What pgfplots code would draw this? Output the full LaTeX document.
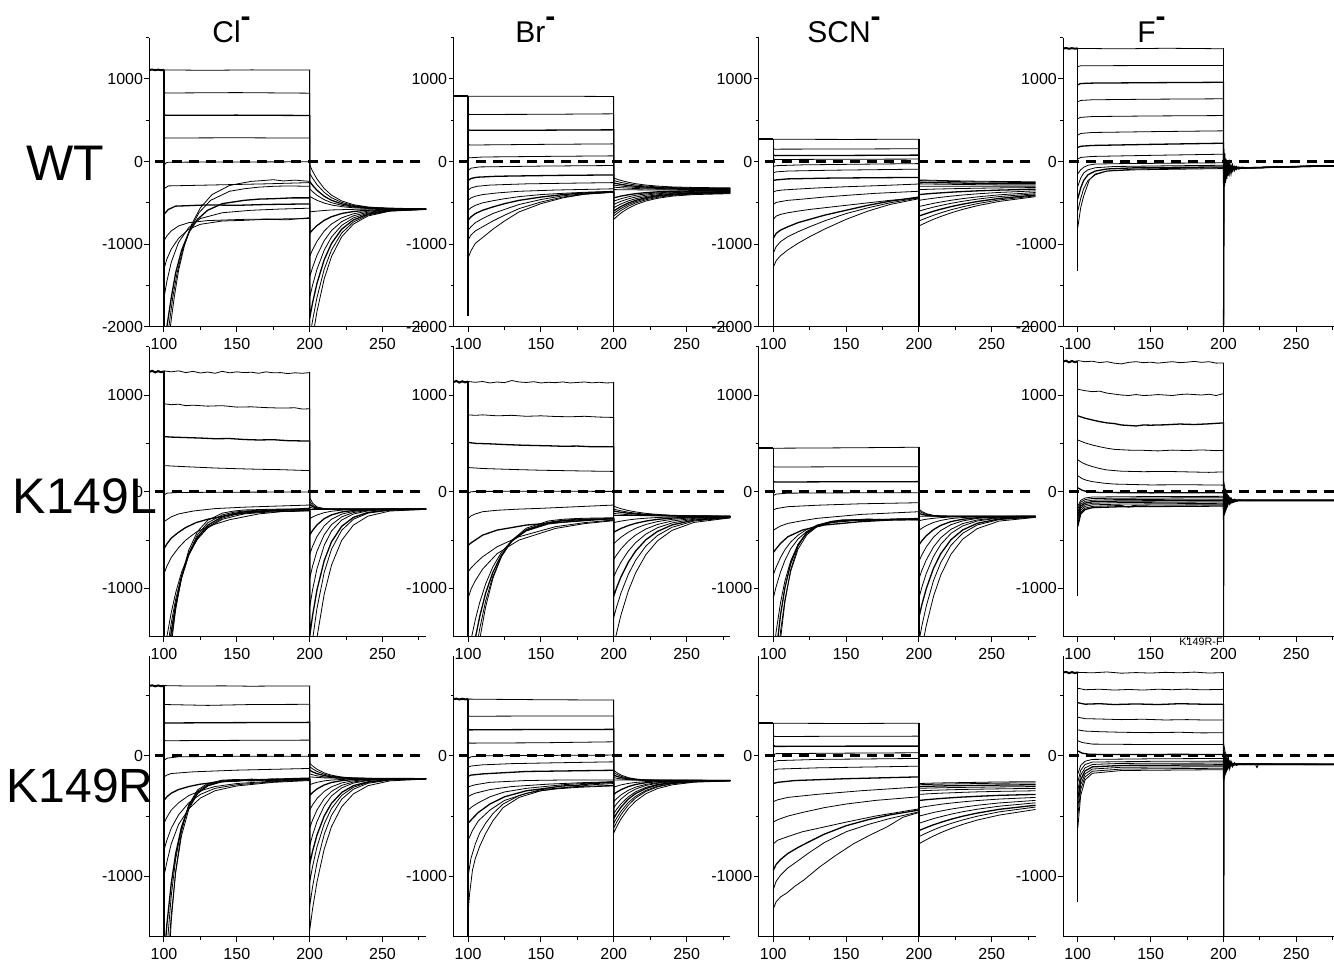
\documentclass[border=0pt]{standalone}
\usepackage{pgfplots}
\pgfplotsset{compat=1.18}
\usepackage{fontspec}
\setmainfont{Liberation Sans}
\pgfplotsset{
  panel/.style={scale only axis, width=138.4pt, xmin=90, xmax=280,
    axis lines*=left, tick align=outside,
    xtick={100,150,200,250}, xticklabels={100,150,200,250},
    minor xtick={125,175,225,275},
    major tick length=2.5pt, minor tick length=1.5pt,
    tick style={black, line width=0.5pt},
    axis line style={black, line width=0.5pt},
    tick label style={font=\fontsize{8}{9}\selectfont},
    yticklabel style={inner xsep=0.5pt},
    cycle list={{black,line width=0.65pt,line join=round,mark=none}},
    anchor=south west},
  rowA/.style={height=144.5pt, ymin=-2000, ymax=1500, ytick={-2000,-1000,0,1000}, yticklabels={-2000,-1000,0,1000}, minor ytick={-1500,-500,500,1500}},
  rowB/.style={height=145pt, ymin=-1500, ymax=1500, ytick={-1000,0,1000}, yticklabels={-1000,0,1000}, minor ytick={-500,500,1500}},
  rowC/.style={height=140.5pt, ymin=-1500, ymax=830, ytick={-1000,0}, yticklabels={-1000,0}, minor ytick={-500,500}},
  pre/.style={black, line width=1.0pt, mark=none},
  vert/.style={black, line width=0.65pt, mark=none},
  zero/.style={black, line width=1.5pt, dash pattern=on 5pt off 3.5pt, mark=none},
}
\begin{document}
\begin{tikzpicture}
% ================= ROW 1 : WT =================
\begin{axis}[panel,rowA,at={(74.7pt,-163.35pt)}]
\addplot[pre] coordinates {(90,1110)(92,1114)(94,1106)(96,1113)(98,1107)(100,1110)};
\addplot[vert] coordinates {(100,1110)(100,-3000)};
\addplot[vert] coordinates {(200,1110)(200,-3000)};
\addplot coordinates {(100,1110)(130,1105)(160,1110)(200,1108)(200,-40)(202,-117)(205,-211)(210,-327)(215,-407)(222,-477)(230,-522)(240,-550)(255,-568)(280,-574)};
\addplot coordinates {(100,845)(101,830)(150,835)(200,828)(200,-140)(202,-202)(205,-279)(210,-374)(215,-438)(222,-495)(230,-532)(240,-555)(255,-569)(280,-576)};
\addplot coordinates {(100,575)(101,560)(150,562)(200,558)(200,-240)(202,-288)(205,-347)(210,-420)(215,-469)(222,-513)(230,-542)(240,-560)(255,-566)(280,-578)};
\addplot coordinates {(100,300)(101,285)(150,288)(200,284)(200,-330)(202,-365)(205,-408)(210,-462)(215,-498)(222,-530)(230,-551)(240,-564)(255,-580)(280,-572)};
\addplot coordinates {(100,-60)(101,-20)(103,-8)(150,-5)(200,-3)(200,-420)(202,-442)(205,-469)(210,-503)(215,-526)(222,-546)(230,-560)(240,-568)(255,-573)(280,-575)};
\addplot coordinates {(100,-330)(103,-295)(130,-285)(170,-270)(200,-255)(200,-610)(205,-600)(215,-586)(230,-579)(255,-570)(280,-578)};
\addplot coordinates {(100,-640)(103,-580)(108,-540)(130,-525)(150,-530)(170,-520)(200,-513)(200,-870)(202,-828)(205,-776)(210,-712)(215,-668)(222,-629)(230,-605)(240,-589)(255,-579)(280,-576)};
\addplot coordinates {(100,-960)(102,-900)(105,-840)(110,-780)(117,-740)(130,-715)(155,-700)(180,-695)(200,-690)(200,-1150)(202,-1068)(205,-967)(210,-841)(215,-756)(222,-681)(230,-633)(240,-601)(255,-583)(280,-576)};
\addplot coordinates {(100,-1300)(102,-1180)(105,-1060)(110,-930)(117,-820)(125,-760)(140,-720)(155,-712)(170,-700)(185,-705)(200,-680)(200,-1400)(202,-1282)(205,-1137)(210,-957)(215,-835)(222,-727)(230,-658)(240,-613)(255,-587)(280,-577)};
\addplot coordinates {(100,-1650)(102,-1450)(105,-1220)(110,-980)(117,-800)(125,-690)(140,-620)(160,-590)(180,-575)(200,-565)(200,-1650)(202,-1496)(205,-1307)(210,-1073)(215,-914)(222,-773)(230,-683)(240,-624)(255,-590)(280,-577)};
\addplot coordinates {(100,-2300)(102,-2000)(105,-1650)(108,-1350)(112,-1080)(117,-860)(123,-700)(130,-590)(140,-510)(155,-470)(165,-455)(175,-450)(188,-440)(200,-440)(200,-1900)(202,-1711)(205,-1477)(210,-1188)(215,-992)(222,-819)(230,-708)(240,-636)(255,-594)(280,-578)};
\addplot coordinates {(100,-2600)(103,-2050)(106,-1650)(109,-1350)(113,-1060)(118,-820)(124,-620)(132,-470)(145,-360)(155,-330)(165,-310)(175,-300)(185,-295)(200,-300)(200,-2150)(202,-1925)(205,-1648)(210,-1304)(215,-1071)(222,-865)(230,-733)(240,-647)(255,-597)(280,-578)};
\addplot coordinates {(100,-3000)(104,-2050)(107,-1650)(110,-1320)(114,-1020)(119,-760)(125,-560)(133,-400)(145,-290)(152,-265)(160,-240)(168,-230)(175,-220)(182,-235)(190,-225)(200,-240)(200,-2400)(202,-2139)(205,-1818)(210,-1420)(215,-1150)(222,-911)(230,-758)(240,-659)(255,-601)(280,-579)};
\addplot[zero] coordinates {(94,0)(280,0)};
\end{axis}

\begin{axis}[panel,rowA,at={(226.75pt,-163.35pt)}]
\addplot[pre] coordinates {(90,790)(100,790)};
\addplot[vert] coordinates {(100,790)(100,-1870)};
\addplot[vert] coordinates {(200,790)(200,-3000)};
\addplot coordinates {(100,790)(150,792)(200,788)(200,-200)(202,-213)(205,-229)(210,-251)(215,-268)(222,-285)(230,-297)(240,-307)(255,-314)(280,-319)};
\addplot coordinates {(100,580)(101,570)(150,572)(200,578)(200,-230)(202,-240)(205,-253)(210,-270)(215,-284)(222,-297)(230,-307)(240,-315)(255,-321)(280,-324)};
\addplot coordinates {(100,390)(101,378)(150,380)(200,384)(200,-260)(202,-267)(205,-277)(210,-290)(215,-300)(222,-309)(230,-317)(240,-322)(255,-327)(280,-329)};
\addplot coordinates {(100,215)(101,200)(150,208)(200,214)(200,-285)(205,-297)(210,-306)(215,-313)(222,-320)(230,-326)(240,-330)(255,-333)(280,-334)};
\addplot coordinates {(100,60)(101,45)(110,55)(150,62)(200,69)(200,-310)(205,-317)(215,-327)(230,-334)(255,-339)(280,-340)};
\addplot coordinates {(100,-110)(102,-80)(108,-65)(150,-55)(200,-48)(200,-340)(230,-345)(280,-345)};
\addplot coordinates {(100,-230)(102,-205)(106,-190)(120,-178)(160,-168)(200,-162)(200,-440)(202,-431)(205,-418)(210,-402)(215,-389)(222,-377)(230,-367)(240,-360)(255,-354)(280,-351)};
\addplot coordinates {(100,-350)(102,-320)(106,-300)(115,-285)(140,-270)(170,-262)(200,-255)(200,-480)(202,-467)(205,-450)(210,-427)(215,-409)(222,-392)(230,-379)(240,-369)(255,-361)(280,-357)};
\addplot coordinates {(100,-470)(102,-440)(105,-420)(110,-400)(120,-380)(135,-360)(160,-345)(200,-330)(200,-520)(202,-503)(205,-481)(210,-452)(215,-430)(222,-407)(230,-390)(240,-377)(255,-368)(280,-362)};
\addplot coordinates {(100,-590)(102,-560)(105,-530)(110,-500)(117,-475)(125,-450)(135,-425)(150,-400)(165,-385)(180,-372)(200,-360)(200,-560)(202,-540)(205,-513)(210,-477)(215,-450)(222,-423)(230,-402)(240,-386)(255,-374)(280,-367)};
\addplot coordinates {(100,-710)(102,-670)(105,-630)(110,-590)(117,-550)(125,-510)(135,-470)(150,-430)(165,-400)(180,-380)(200,-365)(200,-600)(202,-576)(205,-544)(210,-502)(215,-470)(222,-438)(230,-413)(240,-395)(255,-381)(280,-373)};
\addplot coordinates {(100,-830)(102,-790)(105,-740)(110,-690)(117,-630)(125,-580)(135,-520)(150,-460)(165,-415)(180,-390)(200,-370)(200,-630)(202,-603)(205,-568)(210,-521)(215,-486)(222,-450)(230,-423)(240,-403)(255,-387)(280,-378)};
\addplot coordinates {(100,-950)(102,-890)(105,-840)(110,-790)(117,-720)(125,-650)(135,-570)(150,-490)(165,-430)(180,-395)(200,-370)(200,-660)(202,-631)(205,-592)(210,-541)(215,-502)(222,-463)(230,-433)(240,-410)(255,-393)(280,-383)};
\addplot coordinates {(100,-1170)(102,-1080)(105,-990)(110,-920)(117,-820)(125,-720)(135,-610)(150,-510)(165,-440)(180,-395)(200,-372)(200,-700)(202,-667)(205,-623)(210,-566)(215,-522)(222,-478)(230,-445)(240,-419)(255,-400)(280,-389)};
\addplot[zero] coordinates {(94,0)(280,0)};
\end{axis}

\begin{axis}[panel,rowA,at={(379.35pt,-163.35pt)}]
\addplot[pre] coordinates {(90,270)(100,270)};
\addplot[vert] coordinates {(100,270)(100,-3000)};
\addplot[vert] coordinates {(200,270)(200,-3000)};
\addplot coordinates {(100,270)(150,268)(200,270)(200,-222)(202,-223)(205,-225)(210,-227)(215,-229)(222,-232)(230,-235)(240,-238)(255,-241)(280,-245)};
\addplot coordinates {(100,160)(101,150)(150,152)(200,155)(200,-230)(205,-233)(215,-238)(230,-244)(255,-251)(280,-255)};
\addplot coordinates {(100,85)(101,72)(150,74)(200,78)(200,-250)(210,-255)(230,-261)(255,-267)(280,-270)};
\addplot coordinates {(100,40)(101,25)(150,28)(200,30)(200,-270)(210,-273)(230,-278)(255,-283)(280,-285)};
\addplot coordinates {(100,-60)(102,-50)(120,-40)(160,-32)(200,-25)(200,-300)(230,-298)(280,-300)};
\addplot coordinates {(100,-135)(102,-125)(110,-115)(140,-105)(200,-92)(200,-340)(205,-337)(210,-334)(222,-329)(240,-323)(260,-318)(280,-315)};
\addplot coordinates {(100,-230)(102,-222)(110,-210)(140,-200)(200,-192)(200,-400)(202,-397)(205,-392)(210,-385)(215,-379)(222,-371)(230,-363)(240,-355)(255,-346)(280,-335)};
\addplot coordinates {(100,-370)(102,-355)(106,-345)(115,-335)(130,-320)(150,-305)(175,-290)(200,-272)(200,-470)(202,-464)(205,-456)(210,-444)(215,-433)(222,-419)(230,-405)(240,-391)(255,-374)(280,-355)};
\addplot coordinates {(100,-520)(102,-495)(105,-485)(110,-470)(120,-455)(135,-430)(150,-410)(170,-385)(200,-360)(200,-545)(202,-537)(205,-525)(210,-506)(215,-490)(222,-469)(230,-449)(240,-428)(255,-403)(280,-375)};
\addplot coordinates {(100,-700)(102,-660)(105,-640)(110,-620)(117,-600)(125,-580)(135,-560)(150,-530)(165,-500)(180,-470)(200,-440)(200,-600)(202,-590)(205,-575)(210,-552)(215,-532)(222,-506)(230,-481)(240,-455)(255,-424)(280,-390)};
\addplot coordinates {(100,-930)(102,-870)(105,-830)(110,-790)(117,-740)(125,-700)(135,-650)(150,-590)(165,-530)(180,-480)(200,-430)(200,-660)(202,-648)(205,-630)(210,-602)(215,-577)(222,-546)(230,-516)(240,-484)(255,-447)(280,-405)};
\addplot coordinates {(100,-1110)(102,-1030)(105,-970)(110,-910)(117,-850)(125,-790)(135,-720)(150,-630)(165,-560)(180,-500)(200,-440)(200,-720)(202,-705)(205,-684)(210,-651)(215,-621)(222,-584)(230,-548)(240,-510)(255,-465)(280,-415)};
\addplot coordinates {(100,-1280)(102,-1200)(105,-1140)(110,-1070)(117,-990)(125,-910)(135,-820)(150,-700)(165,-600)(180,-520)(200,-450)(200,-780)(202,-763)(205,-738)(210,-699)(215,-665)(222,-622)(230,-579)(240,-535)(255,-483)(280,-425)};
\addplot[zero] coordinates {(94,0)(280,0)};
\end{axis}

\begin{axis}[panel,rowA,at={(531.6pt,-163.35pt)}]
\addplot[pre] coordinates {(90,1370)(92,1374)(94,1366)(96,1373)(98,1367)(100,1371)};
\addplot[vert] coordinates {(100,1370)(100,-1330)};
\addplot[vert] coordinates {(200,1370)(200,-3000)};
\addplot coordinates {(100,1370)(130,1365)(160,1372)(200,1366)(200,40)(201,7)(203,-33)(206,-59)(210,-71)(216,-75)(225,-75)(240,-65)(260,-56)(280,-50)};
\addplot coordinates {(100,1150)(102,1160)(150,1163)(200,1163)(200,20)(201,-7)(203,-40)(206,-62)(210,-72)(216,-75)(225,-74)(240,-66)(260,-57)(280,-51)};
\addplot coordinates {(100,930)(102,945)(110,950)(150,955)(200,960)(200,0)(201,-21)(203,-47)(206,-65)(210,-72)(216,-76)(225,-75)(240,-65)(260,-55)(280,-50)};
\addplot coordinates {(100,725)(102,740)(110,748)(150,755)(200,760)(200,-20)(201,-36)(203,-55)(206,-68)(210,-73)(216,-75)(225,-74)(240,-66)(260,-56)(280,-50)};
\addplot coordinates {(100,520)(102,535)(110,545)(150,552)(200,557)(200,-40)(201,-50)(203,-62)(206,-70)(210,-74)(216,-76)(225,-75)(240,-65)(260,-55)(280,-51)};
\addplot coordinates {(100,320)(102,340)(110,352)(150,362)(200,372)(200,-60)(201,-64)(203,-69)(206,-73)(210,-74)(216,-75)(240,-65)(280,-50)};
\addplot coordinates {(100,170)(102,185)(110,195)(150,208)(200,222)(200,-100)(201,-93)(203,-84)(206,-78)(210,-76)(216,-75)(240,-66)(280,-50)};
\addplot coordinates {(100,30)(102,50)(110,62)(150,75)(200,89)(200,-130)(201,-114)(203,-95)(206,-82)(210,-77)(216,-75)(240,-65)(280,-51)};
\addplot coordinates {(100,-150)(102,-100)(104,-70)(107,-45)(112,-30)(130,-25)(200,-15)(200,-160)(201,-136)(203,-106)(206,-86)(210,-78)(216,-76)(240,-66)(280,-50)};
\addplot coordinates {(100,-300)(102,-200)(104,-140)(107,-100)(112,-75)(125,-60)(160,-52)(200,-45)(200,-190)(201,-157)(203,-117)(206,-91)(210,-79)(216,-76)(240,-65)(280,-50)};
\addplot coordinates {(100,-450)(102,-320)(104,-230)(107,-160)(112,-115)(120,-90)(140,-75)(200,-65)(200,-220)(201,-179)(203,-128)(206,-95)(210,-80)(216,-76)(240,-66)(280,-51)};
\addplot coordinates {(100,-600)(102,-450)(104,-330)(107,-230)(112,-160)(120,-115)(140,-90)(200,-75)(200,-250)(201,-200)(203,-139)(206,-99)(210,-81)(216,-76)(240,-65)(280,-50)};
\addplot coordinates {(100,-800)(102,-560)(104,-420)(106,-320)(108,-220)(112,-150)(120,-115)(140,-100)(200,-85)(200,-250)(201,-200)(203,-139)(206,-99)(210,-81)(216,-76)(240,-65)(280,-50)};
\addplot coordinates {(200,-2500)(200.4,150)(200.8,-300)(201.2,40)(201.7,-230)(202.2,0)(202.8,-180)(203.5,-20)(204.3,-150)(205.2,-40)(206.2,-120)(207.4,-55)(208.8,-100)(210.5,-65)(213,-85)(216,-75)};
\addplot coordinates {(200,-2500)(200.4,-280)(200.8,100)(201.2,-260)(201.7,30)(202.2,-210)(202.8,-10)(203.5,-170)(204.3,-30)(205.2,-140)(206.2,-45)(207.4,-110)(208.8,-60)(210.5,-90)(213,-70)(216,-78)};
\addplot[zero] coordinates {(94,0)(280,0)};
\end{axis}

% ================= ROW 2 : K149L =================
\begin{axis}[panel,rowB,at={(74.7pt,-318.35pt)}]
\addplot[pre] coordinates {(90,1240)(92,1250)(94,1234)(96,1247)(98,1236)(100,1244)};
\addplot[vert] coordinates {(100,1244)(100,-3000)};
\addplot[vert] coordinates {(200,1240)(200,-3000)};
\addplot coordinates {(100,1250)(105,1240)(110,1250)(115,1232)(120,1245)(125,1228)(130,1238)(135,1225)(140,1245)(145,1230)(150,1240)(155,1232)(160,1236)(165,1225)(170,1240)(175,1230)(180,1232)(185,1222)(190,1230)(195,1225)(200,1232)(200,-60)(202,-118)(205,-157)(210,-176)(215,-179)(222,-180)(240,-182)(280,-180)};
\addplot coordinates {(100,910)(105,900)(110,905)(115,890)(120,895)(130,885)(140,890)(150,875)(160,878)(170,870)(180,865)(190,868)(195,855)(200,858)(200,-100)(202,-139)(205,-165)(210,-177)(215,-180)(240,-179)(280,-180)};
\addplot coordinates {(100,570)(105,565)(115,560)(125,555)(135,548)(145,550)(155,540)(165,535)(175,538)(185,528)(195,525)(200,524)(200,-130)(202,-154)(205,-171)(210,-178)(220,-180)(280,-180)};
\addplot coordinates {(100,270)(110,262)(120,255)(135,245)(150,238)(165,232)(180,228)(200,218)(200,-160)(202,-170)(205,-176)(210,-179)(280,-180)};
\addplot coordinates {(100,-35)(102,-15)(110,-8)(150,-5)(200,-3)(200,-185)(280,-182)};
\addplot coordinates {(100,-310)(102,-290)(105,-260)(110,-230)(120,-200)(135,-175)(155,-160)(175,-150)(200,-138)(200,-280)(202,-262)(205,-241)(210,-217)(215,-202)(222,-191)(230,-185)(240,-182)(255,-180)(280,-180)};
\addplot coordinates {(100,-590)(102,-540)(105,-480)(110,-420)(115,-370)(122,-320)(130,-285)(145,-240)(165,-205)(185,-185)(200,-172)(200,-450)(202,-401)(205,-344)(210,-279)(215,-240)(222,-210)(230,-194)(240,-185)(255,-181)(280,-180)};
\addplot coordinates {(100,-850)(102,-770)(105,-680)(110,-580)(115,-500)(122,-420)(130,-360)(145,-290)(165,-230)(185,-200)(200,-190)(200,-650)(202,-565)(205,-465)(210,-353)(215,-285)(222,-232)(230,-204)(240,-188)(255,-182)(280,-180)};
\addplot coordinates {(100,-1700)(102,-1500)(105,-1250)(108,-1048)(112,-836)(117,-646)(123,-491)(130,-376)(140,-286)(148,-255)(155,-230)(165,-218)(175,-208)(188,-200)(200,-200)(200,-900)(202,-770)(205,-617)(210,-445)(215,-341)(222,-260)(230,-216)(240,-193)(255,-183)(280,-180)};
\addplot coordinates {(100,-1900)(102,-1656)(105,-1356)(108,-1116)(112,-872)(117,-655)(123,-485)(130,-366)(140,-273)(148,-240)(155,-219)(165,-212)(175,-200)(188,-205)(200,-195)(200,-1200)(202,-1015)(205,-799)(210,-555)(215,-407)(222,-293)(230,-231)(240,-198)(255,-184)(280,-180)};
\addplot coordinates {(100,-2100)(102,-1806)(105,-1449)(108,-1170)(112,-893)(117,-652)(123,-471)(130,-347)(140,-259)(148,-225)(155,-209)(165,-200)(175,-194)(188,-188)(200,-190)(200,-1500)(202,-1281)(205,-1018)(210,-712)(215,-518)(222,-358)(230,-266)(240,-214)(255,-189)(280,-181)};
\addplot coordinates {(100,-2300)(102,-1949)(105,-1528)(108,-1206)(112,-896)(117,-636)(123,-445)(130,-322)(140,-240)(148,-212)(155,-200)(165,-192)(175,-187)(188,-190)(200,-185)(200,-1800)(202,-1531)(205,-1209)(210,-833)(215,-595)(222,-399)(230,-285)(240,-222)(255,-191)(280,-182)};
\addplot coordinates {(100,-2500)(102,-2080)(105,-1588)(108,-1222)(112,-878)(117,-605)(123,-412)(130,-296)(140,-222)(148,-200)(155,-189)(165,-185)(175,-181)(188,-178)(200,-180)(200,-2200)(202,-1889)(205,-1511)(210,-1059)(215,-760)(222,-503)(230,-346)(240,-253)(255,-200)(280,-182)};
\addplot[zero] coordinates {(94,0)(280,0)};
\end{axis}

\begin{axis}[panel,rowB,at={(226.75pt,-318.35pt)}]
\addplot[pre] coordinates {(90,1135)(92,1145)(94,1129)(96,1142)(98,1131)(100,1140)};
\addplot[vert] coordinates {(100,1140)(100,-3000)};
\addplot[vert] coordinates {(200,1130)(200,-3000)};
\addplot coordinates {(100,1140)(105,1132)(110,1140)(115,1125)(120,1135)(125,1128)(130,1150)(135,1135)(140,1130)(145,1138)(150,1125)(155,1132)(160,1128)(165,1136)(170,1125)(175,1130)(180,1135)(185,1126)(190,1132)(195,1125)(200,1128)(200,-150)(202,-161)(205,-176)(210,-195)(215,-209)(222,-224)(230,-235)(240,-244)(255,-250)(280,-254)};
\addplot coordinates {(100,795)(105,790)(110,795)(120,785)(130,790)(140,780)(150,785)(160,778)(170,775)(180,780)(190,772)(200,768)(200,-180)(202,-188)(205,-198)(210,-212)(215,-222)(222,-233)(230,-241)(240,-247)(255,-251)(280,-254)};
\addplot coordinates {(100,510)(105,500)(115,495)(125,488)(135,482)(145,478)(155,475)(165,470)(175,472)(185,465)(200,466)(200,-200)(202,-206)(205,-213)(210,-223)(215,-231)(222,-239)(230,-245)(240,-249)(255,-252)(280,-254)};
\addplot coordinates {(100,250)(110,240)(120,235)(135,228)(150,222)(165,218)(180,214)(200,210)(200,-225)(205,-232)(210,-238)(215,-242)(222,-246)(230,-249)(240,-252)(255,-254)(280,-255)};
\addplot coordinates {(100,-20)(102,0)(110,3)(150,5)(200,3)(200,-245)(280,-255)};
\addplot coordinates {(100,-280)(102,-250)(105,-230)(110,-207)(120,-192)(135,-180)(150,-172)(175,-155)(200,-138)(200,-320)(202,-313)(205,-304)(210,-292)(215,-283)(222,-274)(230,-267)(240,-262)(255,-258)(280,-256)};
\addplot coordinates {(100,-555)(102,-530)(105,-500)(110,-449)(120,-397)(140,-345)(170,-310)(200,-276)(200,-420)(202,-403)(205,-380)(210,-350)(215,-327)(222,-304)(230,-286)(240,-273)(255,-263)(280,-257)};
\addplot coordinates {(100,-830)(102,-790)(105,-742)(110,-673)(120,-569)(135,-466)(160,-362)(180,-320)(200,-293)(200,-540)(202,-510)(205,-471)(210,-419)(215,-379)(222,-339)(230,-309)(240,-286)(255,-268)(280,-258)};
\addplot coordinates {(100,-1100)(102,-1010)(105,-920)(110,-800)(120,-640)(135,-500)(160,-380)(180,-330)(200,-300)(200,-700)(202,-653)(205,-592)(210,-510)(215,-449)(222,-386)(230,-339)(240,-303)(255,-276)(280,-260)};
\addplot coordinates {(100,-1700)(102,-1534)(105,-1322)(108,-1146)(112,-956)(117,-778)(123,-624)(130,-506)(140,-406)(155,-335)(165,-315)(175,-303)(188,-290)(200,-293)(200,-880)(202,-814)(205,-728)(210,-614)(215,-527)(222,-439)(230,-373)(240,-323)(255,-284)(280,-263)};
\addplot coordinates {(100,-2000)(102,-1785)(105,-1513)(108,-1290)(112,-1052)(117,-834)(123,-652)(130,-512)(140,-399)(155,-325)(165,-300)(175,-292)(188,-285)(200,-282)(200,-1080)(202,-993)(205,-880)(210,-729)(215,-614)(222,-498)(230,-411)(240,-344)(255,-294)(280,-265)};
\addplot coordinates {(100,-2300)(102,-2031)(105,-1693)(108,-1419)(112,-1134)(117,-876)(123,-668)(130,-512)(140,-390)(155,-316)(165,-295)(175,-285)(188,-280)(200,-277)(200,-1300)(202,-1190)(205,-1046)(210,-855)(215,-710)(222,-563)(230,-453)(240,-368)(255,-304)(280,-268)};
\addplot coordinates {(100,-2600)(102,-2267)(105,-1857)(108,-1528)(112,-1195)(117,-899)(123,-666)(130,-503)(140,-377)(155,-303)(165,-285)(175,-277)(188,-272)(200,-270)(200,-1600)(202,-1459)(205,-1273)(210,-1027)(215,-840)(222,-652)(230,-509)(240,-400)(255,-318)(280,-271)};
\addplot[zero] coordinates {(94,0)(280,0)};
\end{axis}

\begin{axis}[panel,rowB,at={(379.35pt,-318.35pt)}]
\addplot[pre] coordinates {(90,450)(100,450)};
\addplot[vert] coordinates {(100,450)(100,-3000)};
\addplot[vert] coordinates {(200,460)(200,-3000)};
\addplot coordinates {(100,450)(130,452)(160,455)(200,460)(200,-180)(202,-205)(205,-227)(210,-245)(215,-251)(222,-254)(240,-255)(280,-255)};
\addplot coordinates {(100,265)(101,255)(150,258)(200,259)(200,-200)(202,-218)(205,-235)(210,-248)(215,-252)(222,-254)(280,-255)};
\addplot coordinates {(100,110)(101,100)(150,103)(200,104)(200,-225)(202,-235)(205,-244)(210,-251)(215,-254)(280,-255)};
\addplot coordinates {(100,-40)(102,-25)(110,-15)(150,-12)(200,-10)(200,-255)(280,-255)};
\addplot coordinates {(100,-190)(102,-175)(110,-155)(130,-140)(160,-125)(200,-114)(200,-300)(202,-293)(205,-285)(210,-275)(215,-268)(222,-262)(230,-259)(240,-257)(280,-255)};
\addplot coordinates {(100,-400)(102,-380)(105,-355)(110,-328)(120,-300)(130,-276)(160,-235)(200,-207)(200,-400)(202,-378)(205,-351)(210,-318)(215,-297)(222,-278)(230,-267)(240,-260)(255,-256)(280,-255)};
\addplot coordinates {(100,-630)(102,-590)(105,-535)(110,-466)(120,-397)(135,-345)(160,-310)(200,-276)(200,-550)(202,-508)(205,-456)(210,-392)(215,-348)(222,-309)(230,-285)(240,-269)(255,-259)(280,-256)};
\addplot coordinates {(100,-860)(102,-780)(105,-680)(108,-600)(112,-520)(117,-450)(123,-390)(130,-350)(140,-315)(155,-295)(175,-285)(200,-280)(200,-720)(202,-654)(205,-572)(210,-470)(215,-401)(222,-341)(230,-302)(240,-276)(255,-262)(280,-256)};
\addplot coordinates {(100,-1100)(102,-980)(105,-830)(108,-710)(112,-590)(117,-490)(123,-410)(130,-360)(140,-320)(155,-300)(175,-290)(200,-285)(200,-900)(202,-814)(205,-707)(210,-571)(215,-476)(222,-389)(230,-330)(240,-292)(255,-268)(280,-257)};
\addplot coordinates {(100,-1700)(102,-1445)(105,-1146)(108,-923)(112,-714)(117,-548)(123,-431)(130,-361)(140,-315)(148,-305)(155,-296)(165,-300)(175,-291)(188,-285)(200,-290)(200,-1100)(202,-988)(205,-847)(210,-669)(215,-545)(222,-431)(230,-354)(240,-303)(255,-272)(280,-258)};
\addplot coordinates {(100,-2000)(102,-1660)(105,-1272)(108,-993)(112,-741)(117,-548)(123,-423)(130,-352)(140,-311)(148,-298)(155,-293)(165,-285)(175,-290)(188,-282)(200,-290)(200,-1300)(202,-1169)(205,-1004)(210,-791)(215,-640)(222,-496)(230,-396)(240,-327)(255,-282)(280,-260)};
\addplot coordinates {(100,-2300)(102,-1900)(105,-1444)(108,-1116)(112,-821)(117,-594)(123,-447)(130,-362)(140,-314)(148,-300)(155,-294)(165,-292)(175,-290)(188,-295)(200,-290)(200,-1550)(202,-1388)(205,-1184)(210,-919)(215,-732)(222,-554)(230,-430)(240,-344)(255,-289)(280,-261)};
\addplot coordinates {(100,-2600)(102,-2089)(105,-1526)(108,-1140)(112,-805)(117,-565)(123,-419)(130,-345)(140,-306)(148,-290)(155,-292)(165,-286)(175,-290)(188,-288)(200,-290)(200,-1800)(202,-1618)(205,-1386)(210,-1082)(215,-861)(222,-646)(230,-491)(240,-382)(255,-304)(280,-266)};
\addplot[zero] coordinates {(94,0)(280,0)};
\end{axis}

\begin{axis}[panel,rowB,at={(531.6pt,-318.35pt)}]
\addplot[pre] coordinates {(90,1345)(92,1355)(94,1338)(96,1352)(98,1340)(100,1350)};
\addplot[vert] coordinates {(100,1350)(100,-1080)};
\addplot[vert] coordinates {(200,1330)(200,-3000)};
\addplot coordinates {(100,1356)(105,1345)(110,1350)(115,1335)(120,1345)(125,1330)(130,1322)(135,1338)(140,1345)(145,1335)(150,1340)(155,1330)(160,1338)(165,1345)(170,1335)(175,1340)(180,1348)(185,1338)(190,1345)(195,1330)(200,1332)(200,120)(201,37)(203,-43)(206,-80)(210,-89)(220,-90)(280,-92)};
\addplot coordinates {(100,1060)(105,1045)(110,1035)(115,1040)(120,1020)(125,1010)(130,1000)(135,995)(140,1005)(145,995)(150,998)(155,1005)(160,1000)(165,995)(170,1005)(175,1010)(180,1005)(185,1000)(190,1008)(195,995)(200,1015)(200,60)(201,1)(203,-57)(206,-83)(210,-89)(280,-90)};
\addplot coordinates {(100,785)(105,760)(110,742)(115,725)(120,712)(125,705)(130,690)(135,685)(140,680)(145,690)(150,688)(160,692)(170,700)(180,695)(190,702)(200,712)(200,0)(201,-35)(203,-70)(206,-86)(210,-90)(280,-90)};
\addplot coordinates {(100,535)(105,505)(110,483)(115,465)(120,450)(125,438)(135,430)(145,428)(155,422)(165,430)(175,426)(185,432)(195,425)(200,428)(200,-40)(201,-60)(203,-79)(206,-88)(210,-90)(280,-91)};
\addplot coordinates {(100,330)(103,300)(106,280)(110,260)(115,240)(120,225)(130,212)(145,207)(160,210)(175,205)(190,200)(200,205)(200,-70)(201,-78)(203,-86)(206,-89)(280,-90)};
\addplot coordinates {(100,165)(103,135)(106,118)(110,104)(118,88)(125,79)(150,70)(175,72)(200,68)(200,-120)(201,-108)(203,-97)(206,-92)(210,-90)(280,-90)};
\addplot coordinates {(100,40)(103,15)(106,2)(115,-8)(150,-12)(200,-10)(200,-160)(201,-132)(203,-106)(206,-94)(210,-91)(280,-90)};
\addplot coordinates {(100,-150)(102,-90)(105,-65)(110,-55)(150,-50)(200,-48)(200,-200)(201,-157)(203,-115)(206,-96)(210,-91)(280,-92)};
\addplot coordinates {(100,-180)(102,-110)(105,-82)(110,-70)(150,-65)(200,-62)(200,-250)(201,-187)(203,-126)(206,-98)(210,-91)(280,-90)};
\addplot coordinates {(100,-210)(102,-130)(105,-100)(110,-88)(130,-80)(200,-78)(200,-120)(203,-97)(210,-90)(280,-90)};
\addplot coordinates {(100,-240)(102,-150)(105,-118)(110,-104)(130,-96)(200,-92)(200,-160)(203,-106)(210,-90)(280,-91)};
\addplot coordinates {(100,-270)(102,-170)(105,-135)(110,-120)(130,-112)(200,-106)(200,-200)(203,-115)(210,-91)(280,-90)};
\addplot coordinates {(100,-300)(102,-190)(105,-152)(110,-136)(130,-128)(200,-120)(200,-250)(203,-126)(210,-91)(280,-90)};
\addplot coordinates {(100,-330)(102,-210)(105,-170)(110,-152)(130,-142)(135,-160)(138,-142)(150,-138)(200,-135)(200,-200)(203,-115)(210,-90)(280,-90)};
\addplot coordinates {(100,-360)(102,-230)(105,-185)(110,-165)(130,-155)(200,-148)(200,-250)(203,-126)(210,-91)(280,-90)};
\addplot coordinates {(200,-3000)(200.4,50)(200.8,-230)(201.2,20)(201.7,-190)(202.2,-20)(202.8,-160)(203.5,-40)(204.3,-140)(205.2,-60)(206.2,-115)(207.5,-75)(209,-100)(211,-85)(214,-92)(218,-89)};
\addplot[zero] coordinates {(94,0)(280,0)};
\end{axis}
\node[font=\fontsize{5.4}{6}\selectfont] at (600.5pt,-320.8pt) {K149R-F};

% ================= ROW 3 : K149R =================
\begin{axis}[panel,rowC,at={(74.7pt,-468.35pt)}]
\addplot[pre] coordinates {(90,580)(92,584)(94,576)(96,583)(98,577)(100,580)};
\addplot[vert] coordinates {(100,580)(100,-3000)};
\addplot[vert] coordinates {(200,580)(200,-3000)};
\addplot coordinates {(100,582)(120,578)(140,580)(160,577)(180,579)(200,578)(200,-60)(202,-84)(205,-111)(210,-142)(215,-161)(222,-176)(230,-184)(240,-188)(255,-189)(280,-190)};
\addplot coordinates {(100,430)(101,425)(130,418)(160,425)(200,427)(200,-90)(202,-108)(205,-129)(210,-153)(215,-168)(222,-179)(230,-185)(240,-188)(280,-190)};
\addplot coordinates {(100,280)(101,272)(150,275)(200,277)(200,-120)(202,-133)(205,-148)(210,-164)(215,-174)(222,-182)(230,-187)(280,-190)};
\addplot coordinates {(100,135)(101,125)(150,128)(200,130)(200,-150)(202,-157)(205,-166)(210,-175)(215,-181)(222,-186)(280,-190)};
\addplot coordinates {(100,-40)(102,-20)(110,-8)(150,-4)(200,-3)(200,-175)(210,-183)(230,-188)(280,-190)};
\addplot coordinates {(100,-175)(102,-160)(105,-147)(120,-133)(150,-119)(200,-105)(200,-240)(202,-231)(205,-220)(210,-208)(215,-201)(222,-196)(230,-193)(240,-191)(280,-190)};
\addplot coordinates {(100,-370)(102,-340)(105,-310)(110,-280)(117,-255)(125,-235)(140,-215)(160,-200)(200,-185)(200,-330)(202,-305)(205,-275)(210,-242)(215,-221)(222,-206)(230,-197)(240,-193)(255,-191)(280,-190)};
\addplot coordinates {(100,-560)(102,-510)(105,-450)(110,-390)(117,-330)(125,-290)(135,-255)(150,-230)(175,-210)(200,-195)(200,-450)(202,-407)(205,-355)(210,-295)(215,-257)(222,-225)(230,-207)(240,-197)(255,-192)(280,-190)};
\addplot coordinates {(100,-780)(102,-700)(105,-600)(110,-490)(117,-390)(125,-320)(135,-270)(150,-240)(175,-215)(200,-200)(200,-600)(202,-532)(205,-450)(210,-355)(215,-295)(222,-245)(230,-217)(240,-201)(255,-193)(280,-190)};
\addplot coordinates {(100,-1000)(102,-880)(105,-730)(110,-570)(117,-440)(125,-350)(135,-290)(150,-250)(175,-220)(200,-205)(200,-750)(202,-657)(205,-546)(210,-416)(215,-333)(222,-266)(230,-226)(240,-205)(255,-194)(280,-191)};
\addplot coordinates {(100,-1700)(102,-1400)(105,-1059)(108,-814)(112,-592)(117,-422)(123,-312)(130,-249)(140,-213)(150,-205)(160,-195)(175,-205)(188,-192)(200,-195)(200,-900)(202,-791)(205,-658)(210,-499)(215,-394)(222,-304)(230,-248)(240,-216)(255,-197)(280,-191)};
\addplot coordinates {(100,-2000)(102,-1601)(105,-1161)(108,-859)(112,-598)(117,-410)(123,-296)(130,-238)(140,-208)(150,-200)(160,-210)(175,-195)(188,-202)(200,-195)(200,-1050)(202,-918)(205,-757)(210,-564)(215,-437)(222,-328)(230,-261)(240,-221)(255,-199)(280,-191)};
\addplot coordinates {(100,-2300)(102,-1835)(105,-1321)(108,-970)(112,-664)(117,-445)(123,-313)(130,-246)(140,-210)(150,-212)(160,-198)(175,-200)(188,-190)(200,-195)(200,-1250)(202,-1087)(205,-889)(210,-651)(215,-494)(222,-360)(230,-277)(240,-228)(255,-201)(280,-191)};
\addplot coordinates {(100,-2600)(102,-2001)(105,-1373)(108,-962)(112,-628)(117,-407)(123,-284)(130,-229)(140,-202)(150,-196)(160,-205)(175,-192)(188,-198)(200,-195)(200,-1450)(202,-1270)(205,-1048)(210,-773)(215,-587)(222,-422)(230,-316)(240,-248)(255,-208)(280,-193)};
\addplot[zero] coordinates {(94,0)(280,0)};
\end{axis}

\begin{axis}[panel,rowC,at={(226.75pt,-468.35pt)}]
\addplot[pre] coordinates {(90,470)(92,474)(94,467)(96,473)(98,468)(100,470)};
\addplot[vert] coordinates {(100,470)(100,-3000)};
\addplot[vert] coordinates {(200,465)(200,-3000)};
\addplot coordinates {(100,470)(150,465)(200,462)(200,-120)(202,-139)(205,-160)(210,-181)(215,-192)(222,-200)(230,-203)(240,-204)(280,-205)};
\addplot coordinates {(100,335)(101,328)(150,330)(200,330)(200,-140)(202,-154)(205,-170)(210,-186)(215,-195)(222,-201)(230,-203)(280,-205)};
\addplot coordinates {(100,225)(101,215)(150,218)(200,219)(200,-160)(202,-170)(205,-181)(210,-192)(215,-198)(222,-202)(280,-205)};
\addplot coordinates {(100,115)(101,105)(150,108)(200,116)(200,-180)(202,-186)(205,-192)(210,-198)(215,-201)(222,-203)(280,-205)};
\addplot coordinates {(100,-25)(102,-8)(110,0)(150,3)(200,6)(200,-200)(280,-205)};
\addplot coordinates {(100,-95)(102,-85)(110,-75)(130,-65)(160,-58)(200,-50)(200,-260)(202,-252)(205,-241)(210,-229)(215,-221)(222,-214)(230,-210)(240,-207)(280,-205)};
\addplot coordinates {(100,-170)(102,-160)(110,-150)(140,-130)(170,-125)(200,-120)(200,-320)(202,-302)(205,-281)(210,-255)(215,-238)(222,-223)(230,-214)(240,-209)(255,-206)(280,-205)};
\addplot coordinates {(100,-260)(102,-250)(105,-240)(115,-220)(140,-205)(170,-200)(200,-200)(200,-380)(202,-355)(205,-324)(210,-286)(215,-260)(222,-237)(230,-223)(240,-213)(255,-207)(280,-205)};
\addplot coordinates {(100,-340)(102,-325)(105,-310)(115,-280)(130,-255)(155,-235)(180,-222)(200,-215)(200,-430)(202,-398)(205,-358)(210,-309)(215,-276)(222,-246)(230,-228)(240,-215)(255,-208)(280,-205)};
\addplot coordinates {(100,-450)(103,-420)(107,-390)(115,-340)(125,-300)(140,-270)(165,-240)(185,-225)(200,-215)(200,-480)(202,-443)(205,-398)(210,-340)(215,-299)(222,-262)(230,-237)(240,-221)(255,-211)(280,-206)};
\addplot coordinates {(100,-560)(103,-520)(107,-470)(115,-400)(125,-340)(140,-290)(150,-275)(165,-250)(175,-245)(185,-230)(200,-220)(200,-520)(202,-478)(205,-426)(210,-359)(215,-313)(222,-271)(230,-242)(240,-223)(255,-211)(280,-206)};
\addplot coordinates {(100,-700)(103,-620)(107,-540)(115,-450)(125,-370)(140,-310)(150,-290)(165,-265)(175,-255)(185,-240)(200,-230)(200,-560)(202,-516)(205,-460)(210,-387)(215,-336)(222,-287)(230,-253)(240,-229)(255,-214)(280,-207)};
\addplot coordinates {(100,-1000)(102,-850)(105,-730)(108,-640)(112,-560)(117,-480)(124,-400)(135,-330)(150,-280)(160,-270)(175,-255)(188,-250)(200,-245)(200,-600)(202,-551)(205,-488)(210,-408)(215,-350)(222,-296)(230,-258)(240,-232)(255,-215)(280,-207)};
\addplot coordinates {(100,-1300)(101,-1150)(103,-950)(105,-850)(108,-750)(112,-645)(117,-540)(124,-430)(135,-345)(150,-290)(160,-275)(175,-262)(188,-255)(200,-250)(200,-640)(202,-589)(205,-523)(210,-438)(215,-376)(222,-315)(230,-272)(240,-241)(255,-219)(280,-208)};
\addplot[zero] coordinates {(94,0)(280,0)};
\end{axis}

\begin{axis}[panel,rowC,at={(379.35pt,-468.35pt)}]
\addplot[pre] coordinates {(90,270)(100,270)};
\addplot[vert] coordinates {(100,270)(100,-3000)};
\addplot[vert] coordinates {(200,270)(200,-3000)};
\addplot coordinates {(100,270)(150,268)(200,270)(200,-230)(205,-228)(215,-225)(230,-222)(255,-217)(280,-215)};
\addplot coordinates {(100,170)(101,160)(150,162)(200,163)(200,-240)(205,-238)(215,-235)(230,-232)(255,-227)(280,-225)};
\addplot coordinates {(100,90)(101,78)(150,80)(200,80)(200,-255)(205,-253)(215,-250)(230,-247)(255,-243)(280,-240)};
\addplot coordinates {(100,10)(102,18)(150,22)(200,25)(200,-270)(205,-268)(215,-265)(230,-262)(255,-258)(280,-255)};
\addplot coordinates {(100,-50)(103,-40)(130,-30)(200,-22)(200,-290)(205,-288)(215,-284)(230,-279)(255,-274)(280,-270)};
\addplot coordinates {(100,-120)(103,-110)(130,-100)(200,-86)(200,-320)(202,-319)(205,-316)(210,-313)(215,-310)(222,-307)(230,-303)(240,-299)(255,-295)(280,-290)};
\addplot coordinates {(100,-230)(103,-220)(115,-205)(150,-190)(200,-175)(200,-370)(202,-368)(205,-364)(210,-359)(215,-354)(222,-348)(230,-342)(240,-336)(255,-328)(280,-320)};
\addplot coordinates {(100,-380)(103,-365)(110,-345)(130,-320)(160,-290)(200,-258)(200,-430)(202,-426)(205,-420)(210,-411)(215,-402)(222,-392)(230,-382)(240,-371)(255,-359)(280,-345)};
\addplot coordinates {(100,-550)(103,-530)(110,-500)(120,-470)(135,-430)(150,-400)(170,-370)(200,-340)(200,-500)(202,-494)(205,-485)(210,-470)(215,-458)(222,-442)(230,-427)(240,-410)(255,-391)(280,-370)};
\addplot coordinates {(100,-730)(103,-700)(110,-670)(120,-630)(135,-590)(150,-550)(170,-500)(200,-440)(200,-560)(202,-552)(205,-540)(210,-521)(215,-505)(222,-484)(230,-464)(240,-443)(255,-418)(280,-390)};
\addplot coordinates {(100,-950)(102,-900)(105,-860)(110,-810)(117,-760)(125,-710)(135,-650)(150,-580)(165,-530)(180,-490)(200,-450)(200,-620)(202,-610)(205,-595)(210,-572)(215,-552)(222,-526)(230,-501)(240,-475)(255,-444)(280,-410)};
\addplot coordinates {(100,-1110)(102,-1040)(105,-990)(110,-930)(117,-870)(125,-800)(135,-720)(150,-630)(165,-570)(180,-520)(200,-465)(200,-670)(202,-658)(205,-641)(210,-614)(215,-590)(222,-561)(230,-532)(240,-501)(255,-465)(280,-425)};
\addplot coordinates {(100,-1270)(102,-1210)(105,-1170)(109,-1140)(115,-1080)(121,-1030)(132,-920)(143,-825)(155,-730)(166,-660)(178,-590)(189,-510)(200,-470)(200,-730)(202,-716)(205,-696)(210,-665)(215,-637)(222,-603)(230,-569)(240,-533)(255,-492)(280,-445)};
\addplot[zero] coordinates {(94,0)(280,0)};
\end{axis}

\begin{axis}[panel,rowC,at={(531.6pt,-468.35pt)}]
\addplot[pre] coordinates {(90,690)(92,696)(94,685)(96,694)(98,686)(100,692)};
\addplot[vert] coordinates {(100,692)(100,-1210)};
\addplot[vert] coordinates {(200,690)(200,-3000)};
\addplot coordinates {(100,692)(110,688)(120,695)(130,685)(140,690)(150,686)(160,692)(170,688)(180,694)(190,686)(200,690)(200,110)(201,39)(203,-30)(206,-61)(210,-69)(220,-70)(280,-72)};
\addplot coordinates {(100,560)(105,548)(115,552)(125,545)(135,550)(145,545)(155,552)(165,548)(175,553)(185,547)(200,551)(200,60)(201,9)(203,-41)(206,-64)(210,-69)(280,-71)};
\addplot coordinates {(100,440)(105,428)(115,432)(125,425)(140,430)(155,425)(170,432)(185,428)(200,427)(200,20)(201,-15)(203,-50)(206,-66)(210,-69)(280,-72)};
\addplot coordinates {(100,320)(105,308)(115,305)(130,300)(145,303)(160,297)(175,300)(190,296)(200,296)(200,-10)(201,-34)(203,-57)(206,-67)(210,-70)(280,-71)};
\addplot coordinates {(100,215)(105,205)(115,200)(130,195)(150,192)(170,195)(185,190)(200,191)(200,-40)(201,-52)(203,-63)(206,-68)(280,-72)};
\addplot coordinates {(100,125)(103,110)(110,97)(130,95)(160,93)(200,94)(200,-60)(201,-64)(203,-68)(280,-71)};
\addplot coordinates {(100,40)(103,22)(108,12)(130,10)(170,12)(200,10)(200,-85)(201,-79)(203,-73)(206,-71)(280,-72)};
\addplot coordinates {(100,-150)(102,-80)(105,-45)(110,-30)(150,-25)(200,-22)(200,-100)(201,-88)(203,-77)(206,-72)(210,-70)(280,-71)};
\addplot coordinates {(100,-220)(102,-120)(105,-72)(110,-52)(150,-46)(200,-44)(200,-120)(201,-100)(203,-81)(206,-73)(210,-70)(280,-72)};
\addplot coordinates {(100,-290)(102,-160)(105,-100)(110,-72)(130,-63)(200,-60)(200,-140)(201,-112)(203,-86)(206,-74)(210,-71)(280,-71)};
\addplot coordinates {(100,-360)(102,-200)(105,-125)(110,-92)(130,-80)(200,-75)(200,-160)(201,-125)(203,-90)(206,-75)(210,-71)(280,-72)};
\addplot coordinates {(100,-430)(102,-240)(105,-150)(110,-110)(130,-95)(200,-90)(200,-180)(201,-137)(203,-95)(206,-76)(210,-71)(222,-70)(223,-100)(224,-70)(280,-71)};
\addplot coordinates {(100,-500)(102,-280)(105,-175)(110,-128)(130,-110)(200,-103)(200,-200)(201,-149)(203,-99)(206,-77)(210,-71)(280,-72)};
\addplot coordinates {(100,-600)(102,-330)(105,-200)(110,-145)(130,-122)(200,-115)(200,-220)(201,-161)(203,-104)(206,-78)(210,-71)(280,-71)};
\addplot coordinates {(200,-3000)(200.4,20)(200.8,-150)(201.2,0)(201.7,-130)(202.2,-20)(202.8,-115)(203.5,-35)(204.3,-100)(205.2,-50)(206.2,-88)(207.5,-60)(209,-78)(211,-66)(214,-72)};
\addplot[zero] coordinates {(94,0)(280,0)};
\end{axis}

% ================= labels =================
\node[font=\fontsize{15}{18}\selectfont, anchor=base west, inner sep=0pt] at (106pt,-21.5pt) {Cl\raisebox{0.55em}{\bfseries -}};
\node[font=\fontsize{15}{18}\selectfont, anchor=base west, inner sep=0pt] at (257.5pt,-21.5pt) {Br\raisebox{0.55em}{\bfseries -}};
\node[font=\fontsize{15}{18}\selectfont, anchor=base west, inner sep=0pt] at (403.5pt,-21.5pt) {SCN\raisebox{0.55em}{\bfseries -}};
\node[font=\fontsize{15}{18}\selectfont, anchor=base west, inner sep=0pt] at (568.5pt,-21.5pt) {F\raisebox{0.55em}{\bfseries -}};
\node[font=\fontsize{25}{30}\selectfont, inner sep=0pt] at (32.5pt,-81.5pt) {WT};
\node[font=\fontsize{25}{30}\selectfont, inner sep=0pt] at (42.5pt,-248pt) {K149L};
\node[font=\fontsize{24}{29}\selectfont, inner sep=0pt] at (40pt,-393pt) {K149R};
\pgfresetboundingbox
\path[use as bounding box] (0pt,0pt) rectangle (667pt,-480.5pt);
\end{tikzpicture}
\end{document}
